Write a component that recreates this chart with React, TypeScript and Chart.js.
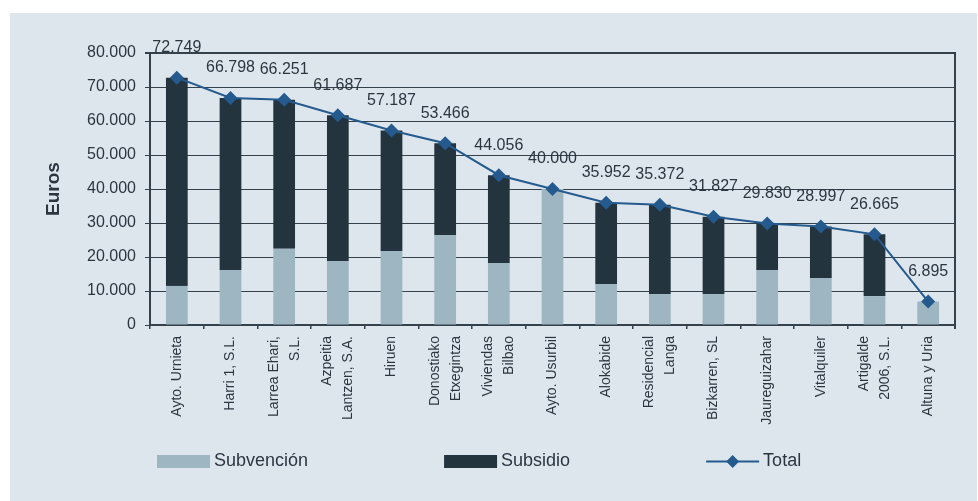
import React, { useEffect, useRef } from 'react';
import { Chart, registerables } from 'chart.js';

Chart.register(...registerables);

const categories: (string | string[])[] = [
  'Ayto. Urnieta',
  'Harri 1, S.L.',
  ['Larrea Ehari,', 'S.L.'],
  ['Azpeitia', 'Lantzen, S.A.'],
  'Hiruen',
  ['Donostiako', 'Etxegintza'],
  ['Viviendas', 'Bilbao'],
  'Ayto. Usurbil',
  'Alokabide',
  ['Residencial', 'Langa'],
  'Bizkarren, SL',
  'Jaureguizahar',
  'Vitalquiler',
  ['Artigalde', '2006, S.L.'],
  'Altuna y Uria',
];

const subvencion = [11500, 16200, 22400, 18800, 21800, 26500, 18200, 40000, 12000, 9100, 9100, 16200, 13800, 8500, 6895];
const subsidio = [61249, 50598, 43851, 42887, 35387, 26966, 25856, 0, 23952, 26272, 22727, 13630, 15197, 18165, 0];
const total = [72749, 66798, 66251, 61687, 57187, 53466, 44056, 40000, 35952, 35372, 31827, 29830, 28997, 26665, 6895];

const yTicks = [0, 10000, 20000, 30000, 40000, 50000, 60000, 70000, 80000];

const FONT = '"Liberation Sans", Arial, sans-serif';
const TEXT = '#2c3640';
const GRID = '#34404a';
const LIGHT = '#9eb6c1';
const DARK = '#24343f';
const BLUE = '#245a8e';

const fmt = (v: number) => String(Math.round(v)).replace(/\B(?=(\d{3})+(?!\d))/g, '.');

const centerLabels = {
  id: 'centerLabels',
  beforeDraw(chart: any) {
    const x = chart.scales.x;
    const items = x.getLabelItems();
    for (const it of items) {
      if (Array.isArray(it.label) && it.label.length > 1 && !it._c) {
        it.textOffset -= ((it.label.length - 1) * it.font.lineHeight) / 2;
        it._c = true;
      }
    }
  },
};

const frame = {
  id: 'frame',
  afterDatasetsDraw(chart: any) {
    const { ctx, chartArea } = chart;
    ctx.save();
    ctx.strokeStyle = GRID;
    ctx.lineWidth = 2;
    ctx.beginPath();
    ctx.moveTo(chartArea.right, chartArea.top - 1);
    ctx.lineTo(chartArea.right, chartArea.bottom + 4);
    ctx.stroke();
    ctx.restore();
  },
};

const dataLabels = {
  id: 'dataLabels',
  afterDatasetsDraw(chart: any) {
    const { ctx } = chart;
    chart.data.datasets.forEach((ds: any, i: number) => {
      if (ds.type !== 'line') return;
      const meta = chart.getDatasetMeta(i);
      ctx.save();
      ctx.font = `16px ${FONT}`;
      ctx.fillStyle = TEXT;
      ctx.textAlign = 'center';
      ctx.textBaseline = 'middle';
      meta.data.forEach((el: any, j: number) => {
        ctx.fillText(fmt(ds.data[j]), el.x, el.y - 30);
      });
      ctx.restore();
    });
  },
};

const customLegend = {
  id: 'customLegend',
  afterDraw(chart: any) {
    const { ctx } = chart;
    ctx.save();
    ctx.font = `18px ${FONT}`;
    ctx.textBaseline = 'middle';
    ctx.textAlign = 'left';
    let x = 147;
    const y = 448.5;
    const bw = 53;
    chart.data.datasets.forEach((ds: any) => {
      if (ds.type === 'line') {
        ctx.strokeStyle = ds.borderColor;
        ctx.lineWidth = 2;
        ctx.beginPath();
        ctx.moveTo(x, y);
        ctx.lineTo(x + bw, y);
        ctx.stroke();
        const cx = x + bw / 2;
        const r = 6.5;
        ctx.fillStyle = ds.pointBackgroundColor;
        ctx.beginPath();
        ctx.moveTo(cx, y - r);
        ctx.lineTo(cx + r, y);
        ctx.lineTo(cx, y + r);
        ctx.lineTo(cx - r, y);
        ctx.closePath();
        ctx.fill();
      } else {
        ctx.fillStyle = ds.backgroundColor;
        ctx.fillRect(x, y - 6.5, bw, 13);
      }
      x += bw + 4;
      ctx.fillStyle = TEXT;
      ctx.fillText(ds.label, x, y);
      x += ctx.measureText(ds.label).width + 136;
    });
    ctx.restore();
  },
};

export default function App() {
  const ref = useRef<HTMLCanvasElement>(null);

  useEffect(() => {
    if (!ref.current) return;
    Chart.defaults.font.family = FONT;
    Chart.defaults.color = TEXT;
    const chart = new Chart(ref.current, {
      type: 'bar',
      data: {
        labels: categories as any,
        datasets: [
          {
            type: 'bar',
            label: 'Subvención',
            data: subvencion,
            backgroundColor: LIGHT,
            stack: 'bars',
            order: 1,
            barPercentage: 0.405,
            categoryPercentage: 1,
          },
          {
            type: 'bar',
            label: 'Subsidio',
            data: subsidio,
            backgroundColor: DARK,
            stack: 'bars',
            order: 1,
            barPercentage: 0.405,
            categoryPercentage: 1,
          },
          {
            type: 'line',
            label: 'Total',
            data: total,
            borderColor: BLUE,
            backgroundColor: BLUE,
            pointBackgroundColor: BLUE,
            pointBorderColor: BLUE,
            borderWidth: 2,
            pointStyle: 'rectRot',
            pointRadius: 7,
            pointBorderWidth: 0,
            stack: 'line',
            order: 0,
            tension: 0,
          } as any,
        ],
      },
      options: {
        animation: false,
        responsive: true,
        maintainAspectRatio: false,
        layout: { padding: { top: 40, right: 22, left: 0, bottom: 0 } },
        plugins: {
          legend: { display: false },
          tooltip: { enabled: false },
        },
        scales: {
          x: {
            stacked: true,
            afterFit: (s: any) => {
              s.height = 176;
            },
            grid: {
              drawOnChartArea: false,
              drawTicks: true,
              tickLength: 4,
              color: GRID,
              lineWidth: 1.5,
              offset: true,
            },
            border: { display: true, color: GRID, width: 2 },
            ticks: {
              autoSkip: false,
              minRotation: 90,
              maxRotation: 90,
              padding: 7,
              color: TEXT,
              font: { size: 14, lineHeight: 1.5 },
            },
          },
          y: {
            stacked: true,
            min: 0,
            max: 80000,
            afterFit: (s: any) => {
              s.width = 140;
            },
            afterBuildTicks: (s: any) => {
              s.ticks = yTicks.map((v) => ({ value: v }));
            },
            grid: {
              color: GRID,
              lineWidth: (c: any) => (c.tick && c.tick.value === 80000 ? 2 : 1),
              tickLength: 5,
              drawTicks: true,
            },
            border: { display: true, color: GRID, width: 2 },
            ticks: {
              padding: 9,
              color: TEXT,
              font: { size: 16 },
              callback: (v: any) => fmt(Number(v)),
            },
            title: {
              display: true,
              text: 'Euros',
              color: TEXT,
              font: { size: 19, weight: 'bold' },
              padding: { top: 32, bottom: 0 },
            },
          },
        },
      },
      plugins: [centerLabels, frame, dataLabels, customLegend],
    });
    return () => chart.destroy();
  }, []);

  return (
    <div
      style={{
        position: 'absolute',
        left: 10,
        top: 13,
        width: 967,
        height: 488,
        background: '#dee6ed',
      }}
    >
      <canvas ref={ref} />
    </div>
  );
}
